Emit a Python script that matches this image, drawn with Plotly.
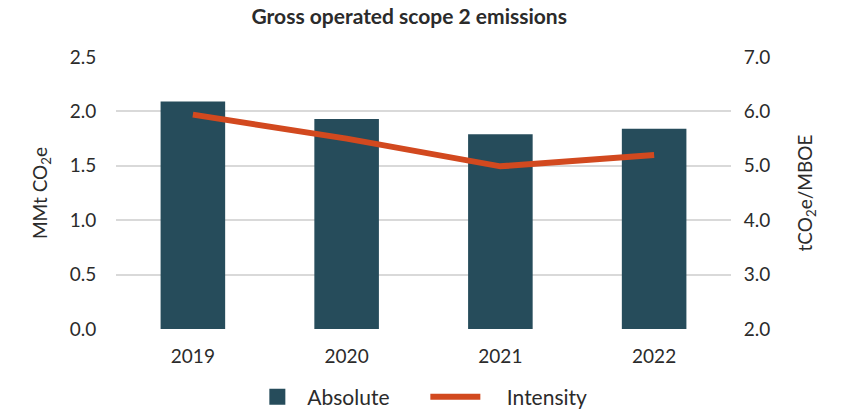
import plotly.graph_objects as go

years = ["2019", "2020", "2021", "2022"]
absolute = [2.09, 1.93, 1.79, 1.84]
intensity = [5.94, 5.5, 4.99, 5.2]

BAR = "#264C5B"
LINE = "#D2491F"
TXT = "#2b2b2b"
FONT = "Lato"

fig = go.Figure()
fig.add_trace(go.Bar(x=years, y=absolute, name="Absolute", marker_color=BAR,
                     marker_line_width=0, yaxis="y", showlegend=False))
# legend entry for bars with a larger square swatch
fig.add_trace(go.Scatter(x=[None], y=[None], name="Absolute", mode="markers",
                         marker=dict(symbol="square", size=21, color=BAR), yaxis="y"))
fig.add_trace(go.Scatter(x=years, y=intensity, name="&nbsp;&nbsp;&nbsp;&nbsp;Intensity",
                         mode="lines", line=dict(color=LINE, width=6), yaxis="y2"))

fig.update_layout(
    width=842, height=415,
    margin=dict(l=116, r=111, t=57, b=86, autoexpand=False),
    paper_bgcolor="white", plot_bgcolor="white",
    font=dict(family=FONT, size=19, color=TXT),
    title=dict(text="<b>Gross operated scope 2 emissions</b>", x=0.486, xanchor="center",
               y=0.96, yanchor="middle", font=dict(family=FONT, size=21, color=TXT)),
    bargap=0.58,
    showlegend=True,
    legend=dict(orientation="h", x=0.503, xanchor="center", y=-0.175, yanchor="top",
                font=dict(family=FONT, size=21, color=TXT), itemwidth=50,
                entrywidth=113, traceorder="normal"),
    xaxis=dict(range=[-0.5, 3.5], showgrid=False, showline=False, zeroline=False,
               ticks="outside", ticklen=10, tickcolor="rgba(0,0,0,0)",
               tickfont=dict(size=19, color=TXT)),
    yaxis=dict(range=[0, 2.5], dtick=0.5, tickformat=".1f", showgrid=True,
               gridcolor="#d9d9d9", gridwidth=1.5, zeroline=False, showline=False,
               ticks="outside", ticklen=15, tickcolor="rgba(0,0,0,0)",
               title=dict(text="MMt CO<sub>2</sub>e", standoff=17,
                          font=dict(size=19, color=TXT)),
               tickfont=dict(size=19, color=TXT)),
    yaxis2=dict(range=[2, 7], dtick=1, tickformat=".1f", overlaying="y", side="right",
                showgrid=False, zeroline=False, showline=False,
                ticks="outside", ticklen=8, tickcolor="rgba(0,0,0,0)",
                title=dict(text="tCO<sub>2</sub>e/MBOE", standoff=29,
                           font=dict(size=19, color=TXT)),
                tickfont=dict(size=19, color=TXT)),
)

fig.write_html("out.html",
               config={"displayModeBar": False},
               post_script="document.body.style.margin='0';document.body.style.overflow='hidden';")
